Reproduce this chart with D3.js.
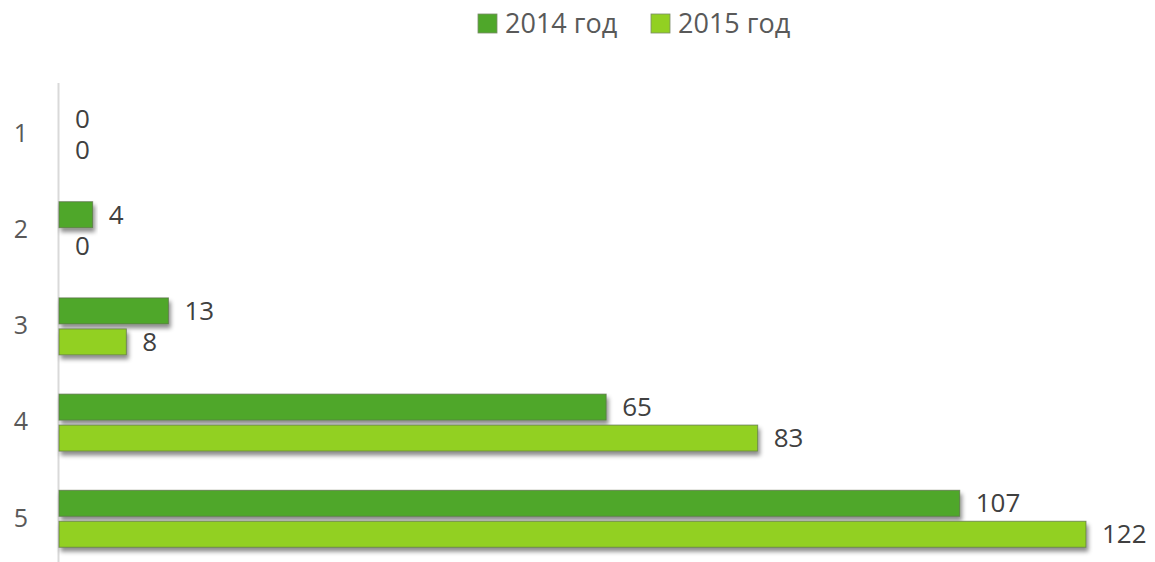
<!DOCTYPE html>
<html>
<head>
<meta charset="utf-8">
<script src="https://cdn.jsdelivr.net/npm/d3@7"></script>
<style>
  body { margin: 0; background: #fff; }
  text { font-family: "Open Sans", sans-serif; }
</style>
</head>
<body>
<div class="chart"></div>
<script>
// categories and series values
var categories = ["1", "2", "3", "4", "5"];
var seriesNames = ["2014 год", "2015 год"];
var values2014 = [0, 4, 13, 65, 107];
var values2015 = [0, 0, 8, 83, 122];
var colors = ["#4fa72a", "#92d022"];

var width = 1155, height = 562;
var margin = {top: 85, right: 60, bottom: 0, left: 59};

var svg = d3.select(".chart")
    .append("svg")
    .attr("width", width)
    .attr("height", height);

// shadow under the bars
var defs = svg.append("defs");
var filter = defs.append("filter")
    .attr("id", "shadow")
    .attr("x", "-5%").attr("y", "-30%")
    .attr("width", "120%").attr("height", "180%");
filter.append("feDropShadow")
    .attr("dx", 2).attr("dy", 4)
    .attr("stdDeviation", 2)
    .attr("flood-color", "#000")
    .attr("flood-opacity", 0.45);

// scales
var x = d3.scaleLinear().domain([0, 122]).range([margin.left, 1086]);
var y = d3.scaleBand().domain(categories).range([margin.top, 566]);
// two bars inside each category band
var inner = d3.scaleBand().domain([0, 1]).range([20.5, 77.5]).paddingInner(0.16);

// axis line
svg.append("line")
    .attr("x1", 58.5).attr("x2", 58.5)
    .attr("y1", 83).attr("y2", height)
    .attr("stroke", "#d9d9d9")
    .attr("stroke-width", 2);

// category labels
svg.selectAll(".cat")
    .data(categories)
  .enter().append("text")
    .attr("x", 21)
    .attr("y", function(d) { return y(d) + y.bandwidth() / 2; })
    .attr("dy", "0.35em")
    .attr("text-anchor", "middle")
    .style("font-size", "25px")
    .style("fill", "#595959")
    .text(function(d) { return d; });

var series = [values2014, values2015];

series.forEach(function(vals, s) {
  var rows = categories.map(function(c, i) { return {cat: c, v: vals[i]}; });

  svg.selectAll(".bar" + s)
      .data(rows.filter(function(d) { return d.v > 0; }))
    .enter().append("rect")
      .attr("x", x(0))
      .attr("y", function(d) { return y(d.cat) + inner(s); })
      .attr("width", function(d) { return x(d.v) - x(0); })
      .attr("height", inner.bandwidth())
      .attr("fill", colors[s])
      .attr("stroke", "#5a6e48")
      .attr("stroke-opacity", 0.7)
      .attr("stroke-width", 1)
      .attr("filter", "url(#shadow)");

  svg.selectAll(".lbl" + s)
      .data(rows)
    .enter().append("text")
      .attr("x", function(d) { return x(d.v) + 16; })
      .attr("y", function(d) { return y(d.cat) + inner(s) + inner.bandwidth() / 2; })
      .attr("dy", "0.35em")
      .style("font-size", "26px")
      .style("fill", "#404040")
      .text(function(d) { return d.v; });
});

// legend
var legend = svg.append("g");
var legendX = [478, 651];
seriesNames.forEach(function(name, i) {
  legend.append("rect")
      .attr("x", legendX[i]).attr("y", 14)
      .attr("width", 19).attr("height", 19)
      .attr("fill", colors[i])
      .attr("stroke", "#7a8a6a")
      .attr("stroke-width", 0.8);
  legend.append("text")
      .attr("x", legendX[i] + 27).attr("y", 24)
      .attr("dy", "0.35em")
      .style("font-size", "27px")
      .style("fill", "#595959")
      .text(name);
});
</script>
</body>
</html>
